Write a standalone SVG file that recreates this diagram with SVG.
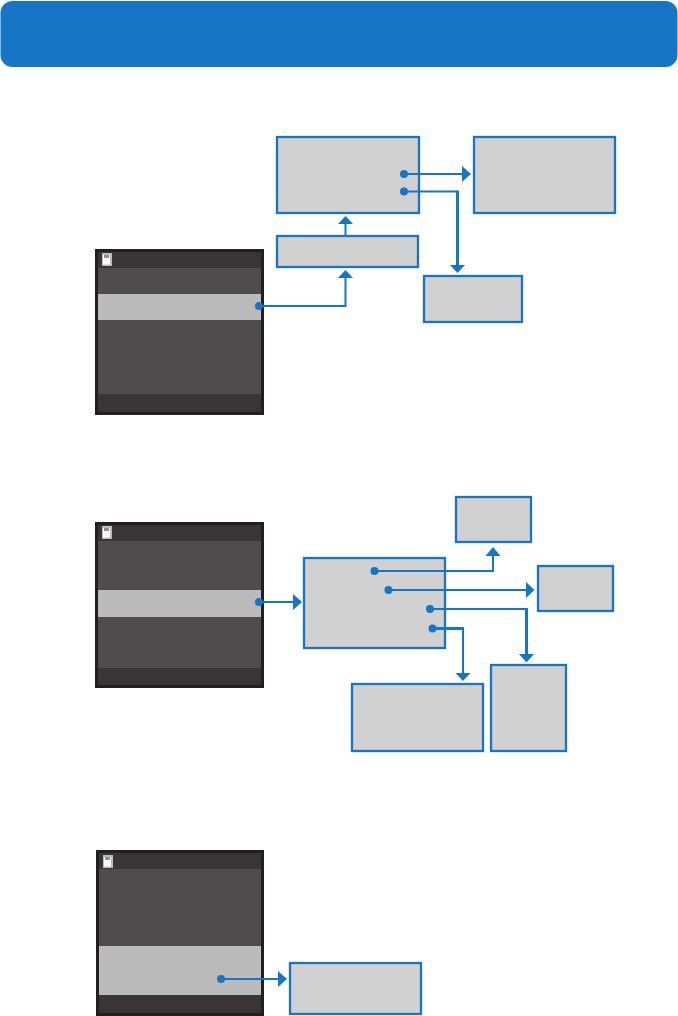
<svg xmlns="http://www.w3.org/2000/svg" width="678" height="1016" viewBox="0 0 678 1016">
  <style>
    .box { fill: #d1d1d1; stroke: #1675c5; stroke-width: 2.3; }
    .frame { fill: #231f20; }
    .bar { fill: #393536; }
    .body { fill: #4e4c4d; }
    .hl { fill: #bbbbbb; }
    .wire { fill: none; stroke: #1675c5; stroke-width: 2; }
    .wire3 { fill: none; stroke: #1675c5; stroke-width: 3; }
    .dot, .head { fill: #1675c5; }
  </style>
  <defs>
    <g id="icon">
      <rect x="0" y="0" width="10" height="13" fill="#bcbcbc"/>
      <rect x="1" y="2" width="7" height="9.500" fill="#ffffff"/>
      <rect x="2" y="2" width="5" height="3" fill="#8f8f8f"/>
    </g>
  </defs>
  <rect width="678" height="1016" fill="#ffffff"/>
  <rect id="header" x="0.5" y="1" width="677" height="66" rx="12" fill="#1675c5"/>

  <g id="screen1">
    <rect class="frame" x="95" y="249" width="169" height="166"/>
    <rect class="bar" x="98" y="252" width="163" height="160"/>
    <rect class="body" x="98" y="268" width="163" height="126"/>
    <rect class="hl" x="98" y="294" width="163" height="26"/>
    <use href="#icon" x="102" y="253"/>
  </g>
  <g id="screen2">
    <rect class="frame" x="95" y="522" width="169" height="166"/>
    <rect class="bar" x="98" y="525" width="163" height="160"/>
    <rect class="body" x="98" y="541" width="163" height="127"/>
    <rect class="hl" x="98" y="590" width="163" height="27"/>
    <use href="#icon" x="102" y="526"/>
  </g>
  <g id="screen3">
    <rect class="frame" x="96" y="850" width="168" height="166"/>
    <rect class="bar" x="99" y="853" width="162" height="160"/>
    <rect class="body" x="99" y="869" width="162" height="126"/>
    <rect class="hl" x="99" y="946" width="162" height="49"/>
    <use href="#icon" x="103" y="855"/>
  </g>

  <g id="node-a"><rect class="box" x="277" y="137" width="142" height="76"/></g>
  <g id="node-b"><rect class="box" x="474" y="137" width="141" height="76"/></g>
  <g id="node-c"><rect class="box" x="277" y="236" width="141" height="31"/></g>
  <g id="node-d"><rect class="box" x="424" y="276" width="98" height="46"/></g>
  <g id="node-e"><rect class="box" x="304" y="558" width="141" height="90"/></g>
  <g id="node-f"><rect class="box" x="456" y="497" width="75" height="45"/></g>
  <g id="node-g"><rect class="box" x="538" y="566" width="75" height="45"/></g>
  <g id="node-h"><rect class="box" x="352" y="684" width="131" height="67"/></g>
  <g id="node-i"><rect class="box" x="491" y="665" width="75" height="86"/></g>
  <g id="node-j"><rect class="box" x="290" y="963" width="131" height="51"/></g>

  <g id="connectors">
    <path class="wire" d="M259 306H345.500V278"/>
    <circle class="dot" cx="259" cy="306" r="4"/>
    <polygon class="head" points="345.500,270 338,278 353,278"/>

    <path class="wire" d="M345.500 236V224"/>
    <polygon class="head" points="345.500,216 338,224 353,224"/>

    <path class="wire" d="M404 174H462"/>
    <circle class="dot" cx="404" cy="174" r="4"/>
    <polygon class="head" points="471,174 462,166 462,182"/>

    <path class="wire" d="M404 191.500H457.500"/>
    <path class="wire3" d="M457.500 190.500V265"/>
    <circle class="dot" cx="404" cy="191.500" r="4"/>
    <polygon class="head" points="457.500,273 450,265 465,265"/>

    <path class="wire" d="M259 602H293"/>
    <circle class="dot" cx="259" cy="602" r="4"/>
    <polygon class="head" points="302,602 293,594 293,610"/>

    <path class="wire" d="M374.500 571H493V556"/>
    <circle class="dot" cx="374.500" cy="571" r="4"/>
    <polygon class="head" points="493,547 485.500,556 500.500,556"/>

    <path class="wire" d="M388.500 590H526"/>
    <circle class="dot" cx="388.500" cy="590" r="4"/>
    <polygon class="head" points="534.500,590 526,582 526,598"/>

    <path class="wire" d="M430 609H526.500"/>
    <path class="wire3" d="M526.500 608V654"/>
    <circle class="dot" cx="430" cy="609" r="4"/>
    <polygon class="head" points="526.500,662.500 519,654 534,654"/>

    <path class="wire3" d="M432.500 628.500H463"/>
    <path class="wire" d="M463 627V673"/>
    <circle class="dot" cx="432.500" cy="628.500" r="4"/>
    <polygon class="head" points="463,681 455.500,673 470.500,673"/>

    <path class="wire" d="M221 979H278"/>
    <circle class="dot" cx="221" cy="979" r="4"/>
    <polygon class="head" points="287,979 278,971 278,987"/>
  </g>
</svg>
